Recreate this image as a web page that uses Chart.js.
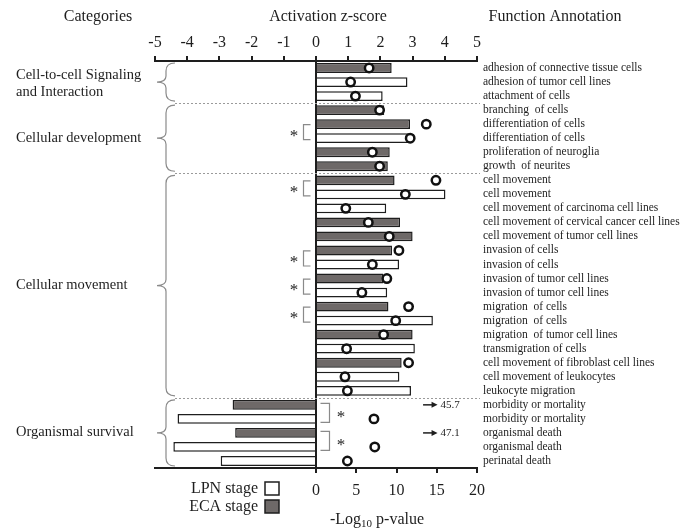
<!doctype html>
<html lang="en">
  <head>
    <meta charset="utf-8">
    <title>Activation z-score and p-value by function annotation</title>
    <style>
      * {
        margin: 0;
        padding: 0;
      }
      body {
        background: #fff;
      }
      .chartBox {
        position: relative;
        width: 681px;
        height: 529px;
      }
    </style>
  </head>

  <body>
    <div class="chartBox">
      <canvas id="myChart"></canvas>
    </div>

    <script src="https://cdn.jsdelivr.net/npm/chart.js"></script>

    <script>
    // setup

    // function annotations, top to bottom
    const annotations = [
      'adhesion of connective tissue cells',
      'adhesion of tumor cell lines',
      'attachment of cells',
      'branching  of cells',
      'differentiation of cells',
      'differentiation of cells',
      'proliferation of neuroglia',
      'growth  of neurites',
      'cell movement',
      'cell movement',
      'cell movement of carcinoma cell lines',
      'cell movement of cervical cancer cell lines',
      'cell movement of tumor cell lines',
      'invasion of cells',
      'invasion of cells',
      'invasion of tumor cell lines',
      'invasion of tumor cell lines',
      'migration  of cells',
      'migration  of cells',
      'migration  of tumor cell lines',
      'transmigration of cells',
      'cell movement of fibroblast cell lines',
      'cell movement of leukocytes',
      'leukocyte migration',
      'morbidity or mortality',
      'morbidity or mortality',
      'organismal death',
      'organismal death',
      'perinatal death'
    ];

    // activation z-score, LPN stage (white bars)
    const zLPN = [null, 2.84, 2.07, null, null, 2.90, null, null, null, 4.02,
      2.18, null, null, null, 2.58, null, 2.21, null, 3.63, null,
      3.07, null, 2.59, 2.95, null, -4.30, null, -4.43, -2.96];

    // activation z-score, ECA stage (grey bars)
    const zECA = [2.35, null, null, 2.12, 2.92, null, 2.29, 2.23, 2.44, null,
      null, 2.61, 3.00, 2.36, null, 2.09, null, 2.25, null, 3.00,
      null, 2.66, null, null, -2.59, null, -2.51, null, null];

    // -log10 p-value (circles); values above 20 are off the scale
    const logP = [6.6, 4.3, 4.9, 7.9, 13.7, 11.7, 7.0, 7.9, 14.9, 11.1,
      3.7, 6.5, 9.1, 10.3, 7.0, 8.8, 5.7, 11.5, 9.9, 8.4,
      3.8, 11.5, 3.6, 3.9, 45.7, 7.2, 47.1, 7.3, 3.9];

    // categories: label lines, first row, last row
    const categories = [
      { lines: ['Cell-to-cell Signaling', 'and Interaction'], from: 0, to: 2 },
      { lines: ['Cellular development'], from: 3, to: 7 },
      { lines: ['Cellular movement'], from: 8, to: 23 },
      { lines: ['Organismal survival'], from: 24, to: 28 }
    ];

    // significant pairs (row indexes) marked with *
    const sigPairs = [[4, 5], [8, 9], [13, 14], [15, 16], [17, 18], [24, 25], [26, 27]];

    const pMax = 20;
    const serif = '"Liberation Serif", "Times New Roman", serif';
    const ink = '#1e1e1e';
    const grey = '#6e6968';

    Chart.defaults.font.family = serif;
    Chart.defaults.color = ink;

    // everything around the bars: headers, braces, brackets, legend
    const decorations = {
      id: 'decorations',
      afterDraw(chart) {
        const { ctx, scales } = chart;
        const y = scales.y;
        const x2 = scales.x2;
        const rowY = (i) => y.getPixelForValue(i);

        ctx.save();
        ctx.fillStyle = ink;
        ctx.textBaseline = 'middle';

        // headers
        ctx.font = '16px ' + serif;
        ctx.textAlign = 'center';
        ctx.fillText('Categories', 98, 17);
        ctx.fillText('Activation z-score', 328, 17);
        ctx.fillText('Function Annotation', 555, 17);

        // dotted separators between categories
        ctx.strokeStyle = '#9a9a9a';
        ctx.lineWidth = 1;
        ctx.setLineDash([2, 2]);
        for (let c = 1; c < categories.length; c++) {
          const yy = Math.round((rowY(categories[c].from) + rowY(categories[c].from - 1)) / 2) + 0.5;
          ctx.beginPath();
          ctx.moveTo(175, yy);
          ctx.lineTo(480, yy);
          ctx.stroke();
        }
        ctx.setLineDash([]);

        // braces and category names
        ctx.strokeStyle = '#8a8a8a';
        ctx.lineWidth = 1.2;
        categories.forEach(cat => {
          const top = rowY(cat.from) - 5;
          const bot = rowY(cat.to) + 5;
          const mid = (top + bot) / 2;
          ctx.beginPath();
          ctx.moveTo(175, top);
          ctx.quadraticCurveTo(166, top, 166, top + 8);
          ctx.lineTo(166, mid - 6);
          ctx.quadraticCurveTo(166, mid, 157, mid);
          ctx.quadraticCurveTo(166, mid, 166, mid + 6);
          ctx.lineTo(166, bot - 8);
          ctx.quadraticCurveTo(166, bot, 175, bot);
          ctx.stroke();

          ctx.font = '14.5px ' + serif;
          ctx.textAlign = 'left';
          const n = cat.lines.length;
          cat.lines.forEach((line, k) => {
            ctx.fillText(line, 16, mid + (k - (n - 1) / 2) * 17 + (n > 1 ? 2 : -0.5));
          });
        });

        // brackets with asterisks
        ctx.strokeStyle = '#8a8a8a';
        ctx.lineWidth = 1.2;
        ctx.font = '17px ' + serif;
        ctx.textAlign = 'center';
        sigPairs.forEach(([a, b]) => {
          const ya = rowY(a) + 0.5;
          const yb = rowY(b) + 1.5;
          const ym = (ya + yb) / 2;
          const left = (zLPN[a] ?? zECA[a]) > 0;
          ctx.beginPath();
          if (left) {
            ctx.moveTo(310.5, ya);
            ctx.lineTo(303.5, ya);
            ctx.lineTo(303.5, yb);
            ctx.lineTo(310.5, yb);
            ctx.stroke();
            ctx.fillText('*', 294, ym + 4);
          } else {
            ctx.moveTo(320.5, ya - 2);
            ctx.lineTo(329.5, ya - 2);
            ctx.lineTo(329.5, yb + 2);
            ctx.lineTo(320.5, yb + 2);
            ctx.stroke();
            ctx.fillText('*', 341, ym + 5);
          }
        });

        // arrows for p-values beyond the axis
        ctx.strokeStyle = ink;
        ctx.fillStyle = ink;
        ctx.lineWidth = 1.5;
        ctx.font = '11px ' + serif;
        ctx.textAlign = 'left';
        logP.forEach((p, i) => {
          if (p <= pMax) return;
          const yy = rowY(i);
          const xa = x2.getPixelForValue(13.3);
          const xb = x2.getPixelForValue(15.1);
          ctx.beginPath();
          ctx.moveTo(xa, yy);
          ctx.lineTo(xb - 4, yy);
          ctx.stroke();
          ctx.beginPath();
          ctx.moveTo(xb, yy);
          ctx.lineTo(xb - 6, yy - 3);
          ctx.lineTo(xb - 6, yy + 3);
          ctx.closePath();
          ctx.fill();
          ctx.fillText(p.toFixed(1), xb + 3, yy);
        });

        // legend
        ctx.font = '16px ' + serif;
        ctx.textAlign = 'right';
        ctx.fillText('LPN stage', 258, 489);
        ctx.fillText('ECA stage', 258, 507);
        ctx.lineWidth = 1.5;
        ctx.strokeStyle = ink;
        ctx.fillStyle = '#fff';
        ctx.fillRect(265, 482, 14, 13);
        ctx.strokeRect(265, 482, 14, 13);
        ctx.fillStyle = grey;
        ctx.fillRect(265, 500, 14, 13);
        ctx.strokeRect(265, 500, 14, 13);

        // bottom axis title
        ctx.fillStyle = ink;
        ctx.textAlign = 'left';
        ctx.textBaseline = 'alphabetic';
        let tx = 330;
        ctx.font = '16px ' + serif;
        ctx.fillText('-Log', tx, 524);
        tx += ctx.measureText('-Log').width;
        ctx.font = '11px ' + serif;
        ctx.fillText('10', tx, 527);
        tx += ctx.measureText('10').width;
        ctx.font = '16px ' + serif;
        ctx.fillText(' p-value', tx, 524);

        ctx.restore();
      }
    };

    // config
    const config = {
      type: 'bar',
      data: {
        labels: annotations,
        datasets: [
          {
            label: 'p-value',
            type: 'line',
            indexAxis: 'y',
            xAxisID: 'x2',
            yAxisID: 'y',
            data: logP.map(p => p > pMax ? null : p),
            showLine: false,
            pointRadius: 4.2,
            pointBorderWidth: 2.5,
            pointBackgroundColor: '#fff',
            pointBorderColor: '#111',
            order: 0
          },
          {
            label: 'LPN stage',
            data: zLPN,
            xAxisID: 'x',
            yAxisID: 'y',
            backgroundColor: '#fff',
            borderColor: ink,
            borderWidth: 1.5,
            order: 1
          },
          {
            label: 'ECA stage',
            data: zECA,
            xAxisID: 'x',
            yAxisID: 'y',
            backgroundColor: grey,
            borderColor: ink,
            borderWidth: 1.5,
            order: 1
          }
        ]
      },
      options: {
        responsive: true,
        maintainAspectRatio: false,
        animation: false,
        indexAxis: 'y',
        layout: {
          padding: { left: 155, right: 0, top: 0, bottom: 0 }
        },
        datasets: {
          bar: {
            grouped: false,
            barPercentage: 0.7,
            categoryPercentage: 1
          }
        },
        plugins: {
          legend: { display: false },
          tooltip: { enabled: false }
        },
        scales: {
          x: {
            position: 'top',
            min: -5,
            max: 5,
            afterFit: (scale) => { scale.height = 61; },
            ticks: {
              stepSize: 1,
              padding: 4,
              font: { size: 16 },
              color: ink
            },
            grid: {
              color: (c) => c.tick && c.tick.value === 0 ? ink : 'transparent',
              tickColor: ink,
              lineWidth: 2,
              tickLength: 5
            },
            border: { color: ink, width: 2 }
          },
          x2: {
            axis: 'x',
            position: 'bottom',
            min: -pMax,
            max: pMax,
            afterFit: (scale) => { scale.height = 61; },
            ticks: {
              stepSize: 5,
              padding: 8,
              font: { size: 16 },
              color: ink,
              callback: (v) => v >= 0 ? v : ''
            },
            grid: {
              drawOnChartArea: false,
              tickColor: (c) => c.tick && c.tick.value >= 0 ? ink : 'transparent',
              lineWidth: 2,
              tickLength: 5
            },
            border: { color: ink, width: 2 }
          },
          y: {
            position: 'right',
            afterFit: (scale) => { scale.width = 204; },
            ticks: {
              autoSkip: false,
              padding: 6,
              font: { size: 11.5 },
              color: ink
            },
            grid: { display: false, drawTicks: false },
            border: { display: false }
          }
        }
      },
      plugins: [decorations]
    };

    // render init block
    const myChart = new Chart(
      document.getElementById('myChart'),
      config
    );
    </script>
  </body>
</html>
